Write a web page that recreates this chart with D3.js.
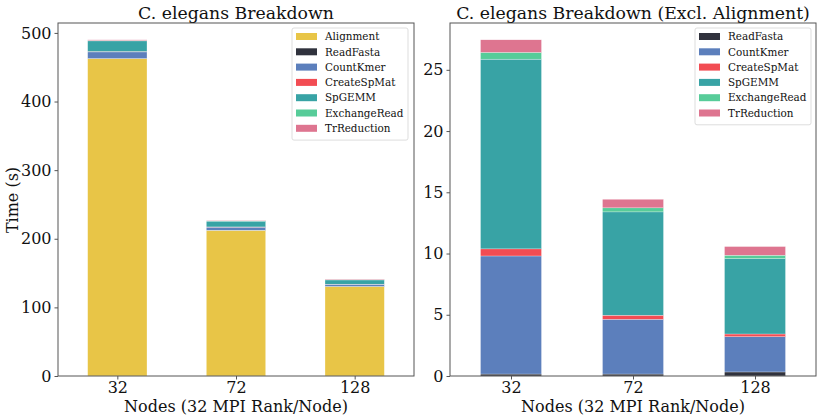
<!DOCTYPE html>
<html>
<head>
<meta charset="utf-8">
<script src="https://cdn.jsdelivr.net/npm/d3@7"></script>
<style>
  body { margin: 0; background: #fff; }
  text { font-family: "DejaVu Serif", serif; fill: #111; }
</style>
</head>
<body>
<div id="chart"></div>
<script>
// Données
const noeuds = ["32", "72", "128"];
const alignment = [462.5, 212.3, 130.4];
const readFasta = [0.16, 0.16, 0.33];
const countKmer = [9.64, 4.47, 2.88];
const createSpMat = [0.58, 0.33, 0.22];
const spGEMM = [15.49, 8.44, 6.16];
const exchangeRead = [0.55, 0.33, 0.27];
const trReduction = [1.03, 0.70, 0.71];

const seriesNoms = ["Alignment", "ReadFasta", "CountKmer", "CreateSpMat", "SpGEMM", "ExchangeRead", "TrReduction"];
const seriesValeurs = [alignment, readFasta, countKmer, createSpMat, spGEMM, exchangeRead, trReduction];
const couleurs = ["#E8C547", "#30323D", "#5C7FBC", "#F24C53", "#38A3A5", "#57CC99", "#DE7590"];

const ticksGauche = [0, 100, 200, 300, 400, 500];
const ticksDroite = [0, 5, 10, 15, 20, 25];

const largeur = 831, hauteur = 419;

const svg = d3.select("#chart").append("svg")
  .attr("width", largeur)
  .attr("height", hauteur);

// Un panneau = un graphique empilé
function panneau(cfg) {
  const noms = cfg.noms;
  const table = noeuds.map((n, i) => {
    const ligne = {noeud: n};
    noms.forEach(nom => { ligne[nom] = seriesValeurs[seriesNoms.indexOf(nom)][i]; });
    return ligne;
  });
  const series = d3.stack().keys(noms)(table);
  const total = d3.max(table, d => d3.sum(noms, k => d[k]));

  const x = d3.scaleLinear().domain([-0.5, 2.5]).range([cfg.gauche, cfg.droite]);
  const y = d3.scaleLinear().domain([0, total * 1.05]).range([cfg.bas, cfg.haut]);
  const demi = (x(0.25) - x(0));

  const g = svg.append("g");

  g.append("g")
    .selectAll("g")
    .data(series)
    .join("g")
    .attr("fill", d => couleurs[seriesNoms.indexOf(d.key)])
    .selectAll("rect")
    .data(d => d)
    .join("rect")
    .attr("x", (d, i) => x(i) - demi)
    .attr("width", demi * 2)
    .attr("y", d => y(d[1]))
    .attr("height", d => y(d[0]) - y(d[1]))
    .attr("stroke", "#fff")
    .attr("stroke-opacity", 0.7)
    .attr("stroke-width", 0.4);

  // Cadre
  g.append("rect")
    .attr("x", cfg.gauche).attr("y", cfg.haut)
    .attr("width", cfg.droite - cfg.gauche).attr("height", cfg.bas - cfg.haut)
    .attr("fill", "none").attr("stroke", "#555").attr("stroke-width", 1);

  // Axe y
  const axeY = g.append("g")
    .attr("transform", `translate(${cfg.gauche},0)`)
    .call(d3.axisLeft(y).tickValues(cfg.ticks).tickSize(3.5).tickPadding(3));
  axeY.select(".domain").remove();
  axeY.selectAll("line").attr("stroke", "#555");
  axeY.selectAll("text").style("font-size", "16px").style("font-family", "DejaVu Serif");

  // Axe x
  const axeX = g.append("g")
    .attr("transform", `translate(0,${cfg.bas})`)
    .call(d3.axisBottom(x).tickValues([0, 1, 2]).tickFormat(i => noeuds[i]).tickSize(3.5).tickPadding(2));
  axeX.select(".domain").remove();
  axeX.selectAll("line").attr("stroke", "#555");
  axeX.selectAll("text").style("font-size", "16px").style("font-family", "DejaVu Serif");

  g.append("text")
    .attr("x", (cfg.gauche + cfg.droite) / 2)
    .attr("y", 412)
    .attr("text-anchor", "middle")
    .style("font-size", "16px")
    .text("Nodes (32 MPI Rank/Node)");

  g.append("text")
    .attr("x", (cfg.gauche + cfg.droite) / 2)
    .attr("y", 19)
    .attr("text-anchor", "middle")
    .style("font-size", "17.3px")
    .text(cfg.titre);

  // Légende
  const leg = g.append("g");
  leg.append("rect")
    .attr("x", cfg.legX).attr("y", 28)
    .attr("width", cfg.legL).attr("height", noms.length * 15.3 + 5)
    .attr("fill", "#fff").attr("stroke", "#ddd").attr("rx", 2);
  noms.forEach((nom, i) => {
    const cy = 36.5 + i * 15.3;
    leg.append("rect")
      .attr("x", cfg.legX + 4).attr("y", cy - 3.5)
      .attr("width", 21).attr("height", 7)
      .attr("fill", couleurs[seriesNoms.indexOf(nom)]);
    leg.append("text")
      .attr("x", cfg.legX + 33).attr("y", cy + 3.7)
      .style("font-size", "10.4px")
      .text(nom);
  });
}

panneau({
  noms: seriesNoms,
  gauche: 58, droite: 414, haut: 23, bas: 376,
  ticks: ticksGauche,
  titre: "C. elegans Breakdown",
  legX: 292, legL: 116
});

panneau({
  noms: seriesNoms.slice(1),
  gauche: 450, droite: 816, haut: 23, bas: 376,
  ticks: ticksDroite,
  titre: "C. elegans Breakdown (Excl. Alignment)",
  legX: 695, legL: 116
});

svg.append("text")
  .attr("transform", "translate(18,200) rotate(-90)")
  .attr("text-anchor", "middle")
  .style("font-size", "16px")
  .text("Time (s)");
</script>
</body>
</html>
